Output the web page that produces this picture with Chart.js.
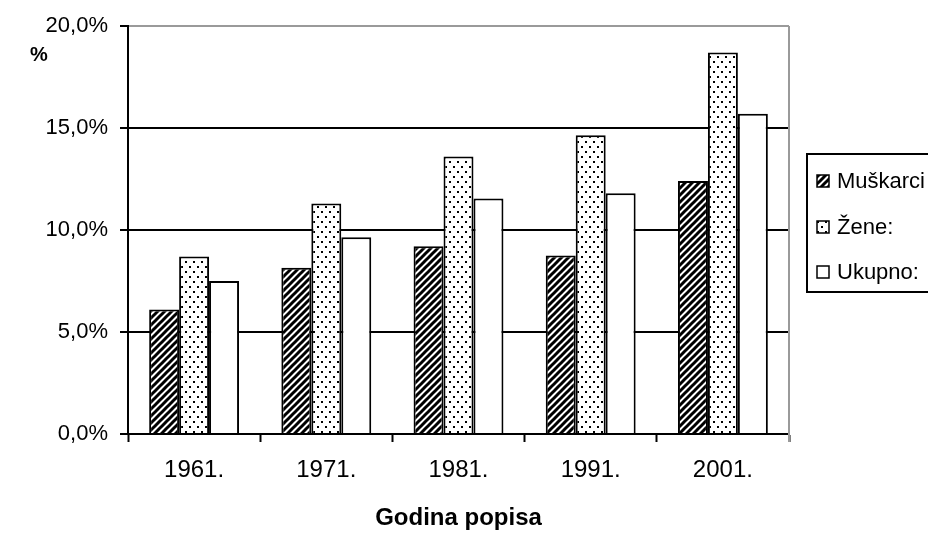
<!DOCTYPE html>
<html>
<head>
<meta charset="utf-8">
<script src="https://cdn.jsdelivr.net/npm/chart.js@4.4.1/dist/chart.umd.min.js"></script>
<style>
html,body{margin:0;padding:0;background:#fff;}
#wrap{width:928px;height:536px;position:relative;}
</style>
</head>
<body>
<div id="wrap"><canvas id="c" width="928" height="536"></canvas></div>
<script>
const categories = ['1961.', '1971.', '1981.', '1991.', '2001.'];
const seriesNames = ['Muškarci', 'Žene:', 'Ukupno:'];
const muskarci = [6.1, 8.15, 9.2, 8.75, 12.4];
const zene = [8.7, 11.3, 13.6, 14.65, 18.7];
const ukupno = [7.5, 9.65, 11.55, 11.8, 15.7];
const yTicks = [0, 5, 10, 15, 20];
const xTitle = 'Godina popisa';
const yTitle = '%';

function hatchPattern() {
  const s = 7;
  const c = document.createElement('canvas');
  c.width = s; c.height = s;
  const g = c.getContext('2d');
  g.fillStyle = '#fff'; g.fillRect(0, 0, s, s);
  g.strokeStyle = '#000'; g.lineWidth = 3;
  g.beginPath();
  g.moveTo(0, s); g.lineTo(s, 0);
  g.moveTo(-s/2, s/2); g.lineTo(s/2, -s/2);
  g.moveTo(s/2, s*1.5); g.lineTo(s*1.5, s/2);
  g.stroke();
  return g.createPattern(c, 'repeat');
}
function dotPattern() {
  const w = 8, h = 10;
  const c = document.createElement('canvas');
  c.width = w; c.height = h;
  const g = c.getContext('2d');
  g.fillStyle = '#fff'; g.fillRect(0, 0, w, h);
  g.fillStyle = '#000';
  g.fillRect(1, 1, 2, 2);
  g.fillRect(5, 6, 2, 2);
  return g.createPattern(c, 'repeat');
}
const fills = [hatchPattern(), dotPattern(), '#ffffff'];

const frame = {
  id: 'frame',
  beforeDatasetsDraw(chart) {
    const a = chart.chartArea, ctx = chart.ctx;
    ctx.save();
    ctx.strokeStyle = '#9a9a9a'; ctx.lineWidth = 2;
    ctx.beginPath();
    ctx.moveTo(a.right, a.top); ctx.lineTo(a.right, a.bottom + 8);
    ctx.stroke();
    ctx.restore();
  },
  afterDraw(chart) {
    const ctx = chart.ctx;
    ctx.save();
    ctx.fillStyle = '#000';
    ctx.font = 'bold 20px "Liberation Sans", Arial, sans-serif';
    ctx.textAlign = 'center'; ctx.textBaseline = 'middle';
    ctx.fillText(yTitle, 39, 55);
    ctx.strokeStyle = '#000'; ctx.lineWidth = 2;
    ctx.strokeRect(807, 154, 140, 138);
    ctx.font = '22px "Liberation Sans", Arial, sans-serif';
    ctx.textAlign = 'left';
    const rows = [181, 227, 272];
    chart.data.datasets.forEach((ds, i) => {
      const y = rows[i];
      ctx.fillStyle = ds.backgroundColor;
      ctx.fillRect(817, y - 6, 12, 12);
      ctx.lineWidth = 1.5; ctx.strokeStyle = '#000';
      ctx.strokeRect(817, y - 6, 12, 12);
      ctx.fillStyle = '#000';
      ctx.fillText(ds.label, 837, y + 1);
    });
    ctx.restore();
  }
};

new Chart(document.getElementById('c'), {
  type: 'bar',
  data: {
    labels: categories,
    datasets: [
      { label: seriesNames[0], data: muskarci, backgroundColor: fills[0] },
      { label: seriesNames[1], data: zene, backgroundColor: fills[1] },
      { label: seriesNames[2], data: ukupno, backgroundColor: fills[2] }
    ].map(d => Object.assign(d, { borderColor: '#000', borderWidth: 2, borderSkipped: 'bottom', categoryPercentage: 0.68, barPercentage: 1.0 }))
  },
  options: {
    responsive: false,
    animation: false,
    devicePixelRatio: 1,
    layout: { padding: { top: 26, right: 139, left: 0, bottom: 0 } },
    plugins: { legend: { display: false }, tooltip: { enabled: false } },
    scales: {
      x: {
        afterFit(s) { s.height = 102; },
        grid: { offset: true, drawOnChartArea: false, tickLength: 8, tickColor: '#000', tickWidth: 2, color: '#000' },
        border: { color: '#000', width: 2 },
        ticks: { color: '#000', padding: 14, font: { family: '"Liberation Sans", Arial, sans-serif', size: 24 } },
        title: { display: true, text: xTitle, color: '#000', padding: { top: 0, bottom: 3 }, font: { family: '"Liberation Sans", Arial, sans-serif', size: 24, weight: 'bold' } }
      },
      y: {
        min: 0, max: 20,
        afterFit(s) { s.width = 128; },
        afterBuildTicks(s) { s.ticks = yTicks.map(v => ({ value: v })); },
        grid: {
          color: ctx => (ctx.tick && ctx.tick.value === 20) ? '#9a9a9a' : '#000',
          lineWidth: 2, tickLength: 8, tickColor: '#000', tickWidth: 2
        },
        border: { color: '#000', width: 2 },
        ticks: {
          color: '#000', padding: 12,
          font: { family: '"Liberation Sans", Arial, sans-serif', size: 22 },
          callback: v => v.toFixed(1).replace('.', ',') + '%'
        }
      }
    }
  },
  plugins: [frame]
});
</script>
</body>
</html>
